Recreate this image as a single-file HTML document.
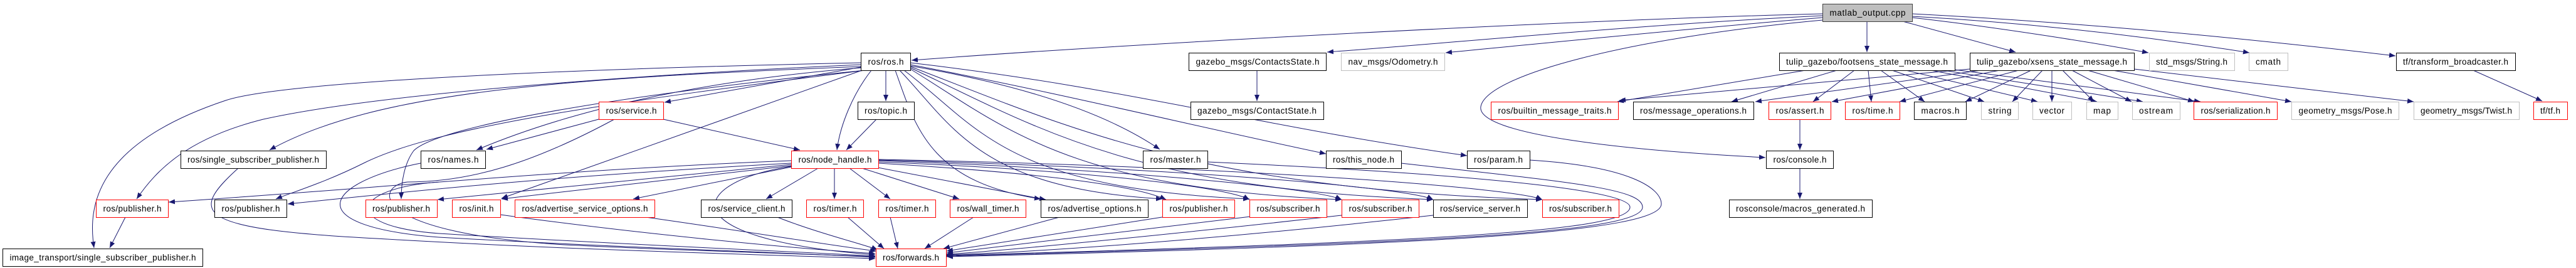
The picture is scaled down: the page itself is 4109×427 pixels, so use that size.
<!DOCTYPE html>
<html><head><meta charset="utf-8"><style>
html,body{margin:0;padding:0;background:#fff;}
svg{display:block;}
text{font-family:"Liberation Sans",sans-serif;font-size:13.5px;fill:#000;text-anchor:middle;}
.b rect{fill:#fff;stroke:#000;stroke-width:1;}
.r rect{fill:#fff;stroke:#ff0000;stroke-width:1;}
.g rect{fill:#fff;stroke:#bfbfbf;stroke-width:1;}
path.e{fill:none;stroke:#191970;stroke-width:1;marker-end:url(#a);}
</style></head><body>
<svg width="4109" height="427" viewBox="0 0 4109 427" xmlns="http://www.w3.org/2000/svg">
<defs><marker id="a" markerUnits="userSpaceOnUse" markerWidth="11" markerHeight="8" refX="10" refY="4" orient="auto"><path d="M0,0 L10,4 L0,8 z" fill="#191970"/></marker></defs>
<g>
<!-- matlab edges -->
<path class="e" d="M2907,22 C2500,32 1800,70 1454,96"/>
<path class="e" d="M2907,25 C2600,40 2300,70 2117,83"/>
<path class="e" d="M2907,28 C2700,45 2450,70 2306,84"/>
<path class="e" d="M2907,32 C2600,60 2370,120 2362,170 C2355,215 2600,240 2816,251"/>
<path class="e" d="M2978,34 L2978,83"/>
<path class="e" d="M3035,34 L3215,83"/>
<path class="e" d="M3050,28 C3200,45 3350,70 3427,84"/>
<path class="e" d="M3050,26 C3300,40 3500,70 3588,84"/>
<path class="e" d="M3050,22 C3400,40 3700,75 3821,89"/>
<!-- ros.h edges -->
<path class="e" d="M1373,100 C900,110 450,130 360,160 C150,230 140,330 150,395"/>
<path class="e" d="M1373,103 C1000,120 600,150 420,190 C300,220 250,270 218,317"/>
<path class="e" d="M1373,106 C900,125 600,145 430,239"/>
<path class="e" d="M1380,112 C1000,160 700,200 580,260 C520,290 470,305 440,317"/>
<path class="e" d="M1373,108 C1100,130 900,180 760,239"/>
<path class="e" d="M1380,112 C1000,150 700,200 660,240 C645,260 640,290 640,317"/>
<path class="e" d="M1373,107 L1060,163"/>
<path class="e" d="M1375,112 L800,316"/>
<path class="e" d="M1390,112 C1360,150 1340,200 1335,239"/>
<path class="e" d="M1413,112 L1413,161"/>
<path class="e" d="M1398,190 L1350,239"/>
<path class="e" d="M1452,105 C1600,130 1750,170 1850,238"/>
<path class="e" d="M1452,103 C1700,150 1900,200 2115,245"/>
<path class="e" d="M1452,100 C1800,140 2000,200 2340,248"/>
<path class="e" d="M1428,112 C1460,200 1480,290 1660,317"/>
<path class="e" d="M1435,112 C1520,200 1560,300 1854,317"/>
<path class="e" d="M1442,112 C1560,200 1600,300 1993,317"/>
<path class="e" d="M1452,110 C1600,200 1700,300 2140,318"/>
<path class="e" d="M1452,108 C1650,200 1800,300 2286,318"/>
<path class="e" d="M1452,106 C1700,200 1900,300 2460,318"/>
<!-- node_handle edges -->
<path class="e" d="M1262,256 C900,270 600,300 269,322"/>
<path class="e" d="M1262,260 C900,280 700,300 459,325"/>
<path class="e" d="M1262,262 L698,318"/>
<path class="e" d="M1262,264 L800,317"/>
<path class="e" d="M1262,266 L1010,317"/>
<path class="e" d="M1305,268 L1222,317"/>
<path class="e" d="M1331,268 L1331,317"/>
<path class="e" d="M1355,268 L1420,317"/>
<path class="e" d="M1375,268 L1530,317"/>
<path class="e" d="M1395,266 L1668,318"/>
<path class="e" d="M1401,260 C1600,272 1800,290 1860,318"/>
<path class="e" d="M1401,258 C1700,270 1950,295 1993,318"/>
<path class="e" d="M1401,256 C1800,270 2100,300 2140,318"/>
<path class="e" d="M1401,255 C1900,268 2250,300 2286,318"/>
<path class="e" d="M1401,254 C2000,266 2420,300 2460,318"/>
<path class="e" d="M1262,265 C1100,290 1060,380 1396,406"/>
<!-- service.h -->
<path class="e" d="M955,190 L776,238"/>
<path class="e" d="M1058,190 L1276,239"/>
<path class="e" d="M980,190 C850,260 750,290 650,290 C600,295 580,370 900,390 C1100,400 1300,405 1396,409"/>
<!-- to forwards -->
<path class="e" d="M380,268 C300,340 310,365 600,380 C900,398 1200,405 1396,412"/>
<path class="e" d="M671,260 C520,290 470,360 700,378 C1000,395 1250,402 1396,410"/>
<path class="e" d="M700,290 C560,300 540,360 700,372 C1000,390 1250,400 1396,408"/>
<path class="e" d="M200,346 L175,395"/>
<path class="e" d="M798,342 C1000,370 1250,395 1396,404"/>
<path class="e" d="M1030,346 C1200,370 1350,395 1398,400"/>
<path class="e" d="M1240,346 C1300,370 1380,390 1400,398"/>
<path class="e" d="M1352,346 L1410,396"/>
<path class="e" d="M1420,346 L1432,396"/>
<path class="e" d="M1553,346 L1475,396"/>
<path class="e" d="M1690,346 L1505,396"/>
<path class="e" d="M1860,345 L1510,400"/>
<path class="e" d="M1995,345 L1510,403"/>
<path class="e" d="M2140,343 C1900,370 1600,400 1510,405"/>
<path class="e" d="M2286,343 C2000,375 1700,400 1510,406"/>
<path class="e" d="M1926,258 C2300,275 2600,300 2600,330 C2600,368 2300,385 1510,407"/>
<path class="e" d="M2235,260 C2500,290 2620,300 2620,330 C2620,370 2300,387 1510,408"/>
<path class="e" d="M2440,255 C2600,265 2650,300 2650,325 C2650,370 2300,390 1510,409"/>
<!-- footsens -->
<path class="e" d="M2880,112 L2580,162"/>
<path class="e" d="M2930,112 L2762,162"/>
<path class="e" d="M2958,112 L2892,162"/>
<path class="e" d="M2980,112 L2985,162"/>
<path class="e" d="M3000,112 L3070,162"/>
<path class="e" d="M3018,112 L3165,162"/>
<path class="e" d="M3040,112 L3250,162"/>
<path class="e" d="M3080,112 L3345,162"/>
<path class="e" d="M3100,112 L3418,162"/>
<path class="e" d="M3110,110 L3510,162"/>
<!-- xsens -->
<path class="e" d="M3142,110 L2583,160"/>
<path class="e" d="M3160,112 L2800,162"/>
<path class="e" d="M3190,112 L2922,162"/>
<path class="e" d="M3220,112 L3030,162"/>
<path class="e" d="M3240,112 L3135,162"/>
<path class="e" d="M3258,112 L3210,162"/>
<path class="e" d="M3273,112 L3273,162"/>
<path class="e" d="M3290,112 L3340,162"/>
<path class="e" d="M3305,112 L3400,162"/>
<path class="e" d="M3330,112 L3500,162"/>
<path class="e" d="M3370,112 L3655,162"/>
<path class="e" d="M3404,110 L3850,162"/>
<!-- misc -->
<path class="e" d="M2871,190 L2871,239"/>
<path class="e" d="M2871,268 L2871,317"/>
<path class="e" d="M2005,112 L2005,161"/>
<path class="e" d="M3945,112 L4055,161"/>
</g>
<!-- nodes -->
<g class="g"><rect x="2907.5" y="6.5" width="143" height="28" style="fill:#bfbfbf;stroke:#404040"/><text x="2979" y="25" textLength="121">matlab_output.cpp</text></g>

<g class="b"><rect x="1373.5" y="84.5" width="79" height="28"/><text x="1413" y="103" textLength="57">ros/ros.h</text></g>
<g class="b"><rect x="1896.5" y="84.5" width="219" height="28"/><text x="2006" y="103" textLength="197">gazebo_msgs/ContactsState.h</text></g>
<g class="g"><rect x="2139.5" y="84.5" width="165" height="28"/><text x="2222" y="103" textLength="143">nav_msgs/Odometry.h</text></g>
<g class="b"><rect x="2838.5" y="84.5" width="280" height="28"/><text x="2978" y="103" textLength="258">tulip_gazebo/footsens_state_message.h</text></g>
<g class="b"><rect x="3142.5" y="84.5" width="262" height="28"/><text x="3273" y="103" textLength="240">tulip_gazebo/xsens_state_message.h</text></g>
<g class="g"><rect x="3428.5" y="84.5" width="136" height="28"/><text x="3496" y="103" textLength="114">std_msgs/String.h</text></g>
<g class="g"><rect x="3587.5" y="84.5" width="62" height="28"/><text x="3618" y="103" textLength="40">cmath</text></g>
<g class="b"><rect x="3822.5" y="84.5" width="190" height="28"/><text x="3917" y="103" textLength="168">tf/transform_broadcaster.h</text></g>

<g class="r"><rect x="955.5" y="162.5" width="103" height="28"/><text x="1007" y="181" textLength="81">ros/service.h</text></g>
<g class="b"><rect x="1368.5" y="162.5" width="90" height="28"/><text x="1413" y="181" textLength="68">ros/topic.h</text></g>
<g class="b"><rect x="1899.5" y="162.5" width="212" height="28"/><text x="2005" y="181" textLength="190">gazebo_msgs/ContactState.h</text></g>
<g class="r"><rect x="2378.5" y="162.5" width="203" height="28"/><text x="2480" y="181" textLength="181">ros/builtin_message_traits.h</text></g>
<g class="b"><rect x="2605.5" y="162.5" width="192" height="28"/><text x="2701" y="181" textLength="170">ros/message_operations.h</text></g>
<g class="r"><rect x="2821.5" y="162.5" width="99" height="28"/><text x="2871" y="181" textLength="77">ros/assert.h</text></g>
<g class="r"><rect x="2943.5" y="162.5" width="87" height="28"/><text x="2987" y="181" textLength="65">ros/time.h</text></g>
<g class="b"><rect x="3053.5" y="162.5" width="83" height="28"/><text x="3095" y="181" textLength="61">macros.h</text></g>
<g class="g"><rect x="3160.5" y="162.5" width="59" height="28"/><text x="3190" y="181" textLength="37">string</text></g>
<g class="g"><rect x="3242.5" y="162.5" width="62" height="28"/><text x="3273" y="181" textLength="40">vector</text></g>
<g class="g"><rect x="3328.5" y="162.5" width="50" height="28"/><text x="3353" y="181" textLength="28">map</text></g>
<g class="g"><rect x="3401.5" y="162.5" width="76" height="28"/><text x="3439" y="181" textLength="54">ostream</text></g>
<g class="r"><rect x="3499.5" y="162.5" width="133" height="28"/><text x="3566" y="181" textLength="111">ros/serialization.h</text></g>
<g class="g"><rect x="3655.5" y="162.5" width="171" height="28"/><text x="3741" y="181" textLength="149">geometry_msgs/Pose.h</text></g>
<g class="g"><rect x="3850.5" y="162.5" width="168" height="28"/><text x="3934" y="181" textLength="146">geometry_msgs/Twist.h</text></g>
<g class="r"><rect x="4041.5" y="162.5" width="54" height="28"/><text x="4068" y="181" textLength="32">tf/tf.h</text></g>

<g class="b"><rect x="288.5" y="240.5" width="232" height="28"/><text x="404" y="259" textLength="210">ros/single_subscriber_publisher.h</text></g>
<g class="b"><rect x="671.5" y="240.5" width="103" height="28"/><text x="723" y="259" textLength="81">ros/names.h</text></g>
<g class="r"><rect x="1262.5" y="240.5" width="139" height="28"/><text x="1332" y="259" textLength="117">ros/node_handle.h</text></g>
<g class="b"><rect x="1823.5" y="240.5" width="103" height="28"/><text x="1875" y="259" textLength="81">ros/master.h</text></g>
<g class="b"><rect x="2115.5" y="240.5" width="120" height="28"/><text x="2175" y="259" textLength="98">ros/this_node.h</text></g>
<g class="b"><rect x="2340.5" y="240.5" width="100" height="28"/><text x="2390" y="259" textLength="78">ros/param.h</text></g>
<g class="b"><rect x="2817.5" y="240.5" width="107" height="28"/><text x="2871" y="259" textLength="85">ros/console.h</text></g>

<g class="r"><rect x="153.5" y="318.5" width="115" height="28"/><text x="211" y="337" textLength="93">ros/publisher.h</text></g>
<g class="b"><rect x="342.5" y="318.5" width="115" height="28"/><text x="400" y="337" textLength="93">ros/publisher.h</text></g>
<g class="r"><rect x="583.5" y="318.5" width="114" height="28"/><text x="640" y="337" textLength="92">ros/publisher.h</text></g>
<g class="r"><rect x="721.5" y="318.5" width="77" height="28"/><text x="760" y="337" textLength="55">ros/init.h</text></g>
<g class="r"><rect x="821.5" y="318.5" width="223" height="28"/><text x="933" y="337" textLength="201">ros/advertise_service_options.h</text></g>
<g class="b"><rect x="1118.5" y="318.5" width="145" height="28"/><text x="1191" y="337" textLength="123">ros/service_client.h</text></g>
<g class="r"><rect x="1286.5" y="318.5" width="91" height="28"/><text x="1332" y="337" textLength="69">ros/timer.h</text></g>
<g class="r"><rect x="1401.5" y="318.5" width="91" height="28"/><text x="1447" y="337" textLength="69">ros/timer.h</text></g>
<g class="r"><rect x="1515.5" y="318.5" width="121" height="28"/><text x="1576" y="337" textLength="99">ros/wall_timer.h</text></g>
<g class="b"><rect x="1660.5" y="318.5" width="171" height="28"/><text x="1746" y="337" textLength="149">ros/advertise_options.h</text></g>
<g class="r"><rect x="1854.5" y="318.5" width="115" height="28"/><text x="1912" y="337" textLength="93">ros/publisher.h</text></g>
<g class="r"><rect x="1993.5" y="318.5" width="123" height="28"/><text x="2055" y="337" textLength="101">ros/subscriber.h</text></g>
<g class="r"><rect x="2140.5" y="318.5" width="123" height="28"/><text x="2202" y="337" textLength="101">ros/subscriber.h</text></g>
<g class="b"><rect x="2286.5" y="318.5" width="150" height="28"/><text x="2361" y="337" textLength="128">ros/service_server.h</text></g>
<g class="r"><rect x="2460.5" y="318.5" width="122" height="28"/><text x="2521" y="337" textLength="100">ros/subscriber.h</text></g>
<g class="b"><rect x="2758.5" y="318.5" width="228" height="28"/><text x="2872" y="337" textLength="206">rosconsole/macros_generated.h</text></g>

<g class="b"><rect x="4.5" y="396.5" width="319" height="28"/><text x="164" y="415" textLength="297">image_transport/single_subscriber_publisher.h</text></g>
<g class="r"><rect x="1397.5" y="396.5" width="112" height="28"/><text x="1453" y="415" textLength="90">ros/forwards.h</text></g>
</svg>
</body></html>
